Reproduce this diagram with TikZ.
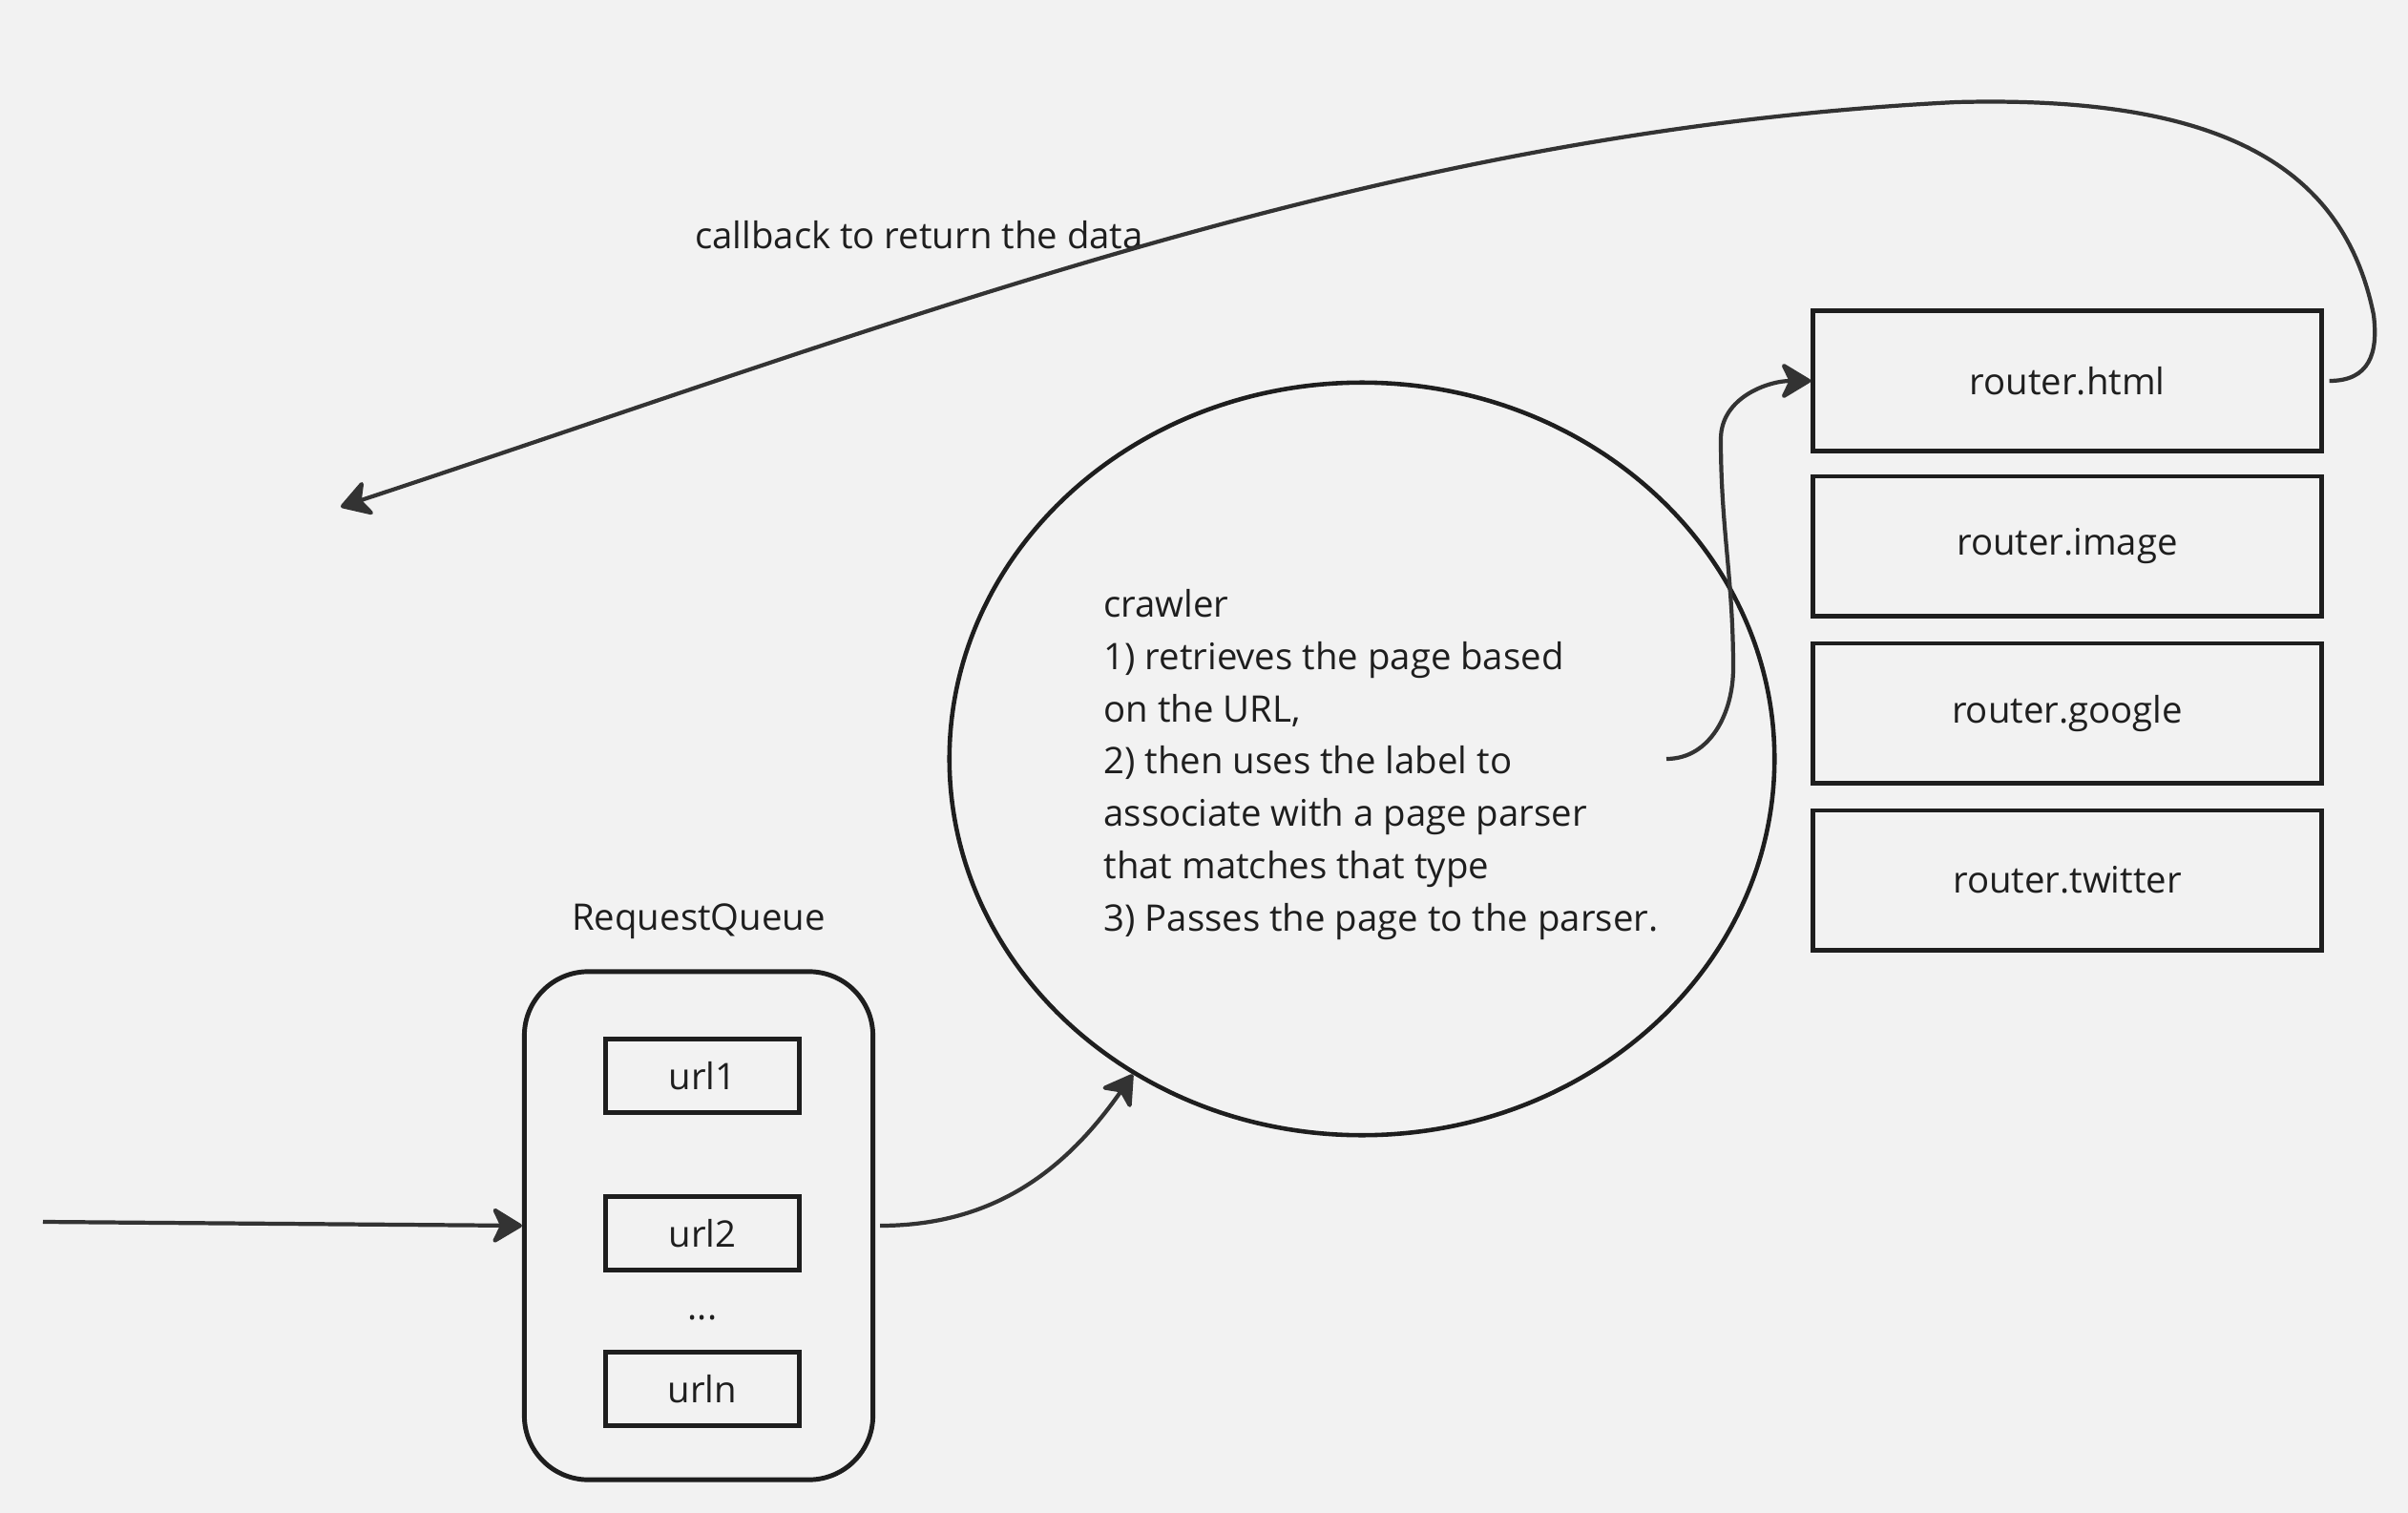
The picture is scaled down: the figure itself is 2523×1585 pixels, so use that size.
\documentclass[tikz,border=0pt]{standalone}
\usepackage{fontspec}
\setmainfont{Open Sans}
\usetikzlibrary{positioning,shapes.geometric,arrows.meta}
\definecolor{bgcol}{HTML}{F2F2F2}
\definecolor{inkcol}{HTML}{1E1E1E}
\definecolor{wirecol}{HTML}{333333}

\begin{document}
\begin{tikzpicture}[x=0.01cm,y=-0.01cm,text=inkcol,
		font=\fontsize{10.9}{15.6}\selectfont,
		box/.style={draw=inkcol,line width=1.4pt,minimum width=5.32cm,minimum height=1.46cm,inner sep=0pt},
		urlbox/.style={draw=inkcol,line width=1.4pt,minimum width=2.03cm,minimum height=0.77cm,inner sep=0pt},
		wire/.style={draw=wirecol,line width=1.2pt,-{Stealth[length=0.35cm,width=0.42cm,inset=0.1cm,round]}}]
				\fill[bgcol] (0,0) rectangle (2523,1585);
				\useasboundingbox (0,0) rectangle (2523,1585);
				% request queue
				\node[draw=inkcol,line width=1.4pt,rounded corners=0.67cm,minimum width=3.65cm,minimum height=5.32cm] (queue) at (732,1284) {};
				\node[above=0.19cm of queue] (qlabel) {RequestQueue};
				\node[urlbox] (url1) at (736,1127) {url1};
				\node[urlbox] (url2) at (736,1292) {url2};
				\node (dots) at (736,1380) {...};
				\node[urlbox] (urln) at (736,1455) {urln};
				% crawler
				\node[ellipse,draw=inkcol,line width=1.3pt,minimum width=8.64cm,minimum height=7.88cm] (crawler) at (1427,795) {};
				\node[align=left] (crawltext) at (1447,801)
					{crawler\\1) retrieves the page based\\on the URL,\\2) then uses the label to\\associate with a page parser\\that matches that type\\3) Passes the page to the parser.};
				% routers
				\node[box] (html) at (2166,399) {router.html};
				\node[box,below=0.22cm of html] (image) {router.image};
				\node[box,below=0.24cm of image] (google) {router.google};
				\node[box,below=0.24cm of google] (twitter) {router.twitter};
				\node (cblabel) at (963,246) {callback to return the data};
				\coordinate (src) at (45,1280);
				\coordinate (parse) at (1746,795);
				\coordinate (cbend) at (357,531);
				\draw[wire] (src) -- (queue.west);
				\draw[wire] ([xshift=0.05cm]queue.east) to[out=0,in=-125] (crawler.-126);
				\draw[wire] (parse) to[out=0,in=-90] (1816,700) to[out=90,in=-90] (1803,460) to[out=90,in=180] (html.west);
				\draw[wire] ([xshift=0.06cm]html.east) .. controls +(42,0) and (2492,370) .. (2487,330)
					.. controls (2455,170) and (2320,100) .. (2050,107)
					.. controls (1450,137) and (957,333) .. (cbend);
			\end{tikzpicture}
\end{document}
